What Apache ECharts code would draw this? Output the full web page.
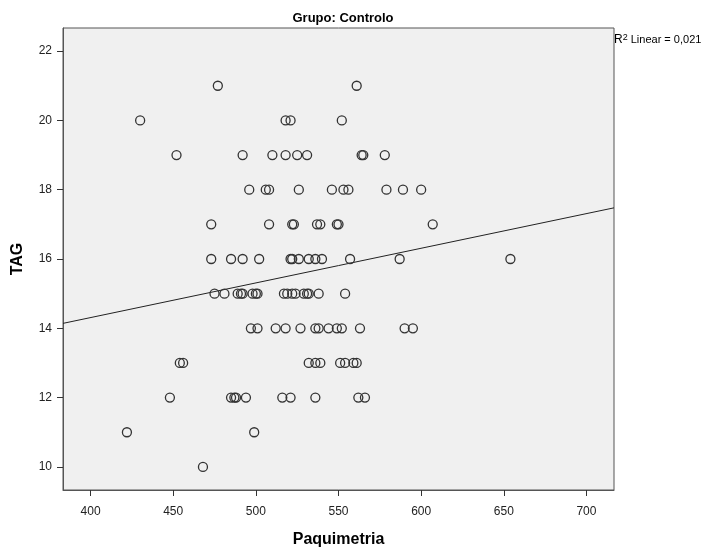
<!DOCTYPE html>
<html>
<head>
<meta charset="utf-8">
<script src="https://cdn.jsdelivr.net/npm/echarts@6/dist/echarts.min.js"></script>
<style>
  html, body { margin: 0; padding: 0; background: #ffffff; }
  #chart { width: 712px; height: 553px; }
</style>
</head>
<body>
<div id="chart"></div>
<script>
// Paquimetria (x) values grouped by TAG level (y)
const tagLevels = [21, 20, 19, 18, 17, 16, 15, 14, 13, 12, 11, 10];
const paqByTag = [
  [477, 561],
  [430, 518, 521, 552],
  [452, 492, 510, 518, 525, 531, 564, 565, 578],
  [496, 506, 508, 526, 546, 553, 556, 579, 589, 600],
  [473, 508, 522, 523, 537, 539, 549, 550, 607],
  [473, 485, 492, 502, 521, 522, 526, 532, 536, 540, 557, 587, 654],
  [475, 481, 489, 491, 492, 498, 500, 501, 517, 519, 522, 524, 529, 531, 532, 538, 554],
  [497, 501, 512, 518, 527, 536, 538, 544, 549, 552, 563, 590, 595],
  [454, 456, 532, 536, 539, 551, 554, 559, 561],
  [448, 485, 487, 488, 494, 516, 521, 536, 562, 566],
  [422, 499],
  [468]
];
const xTicks = [400, 450, 500, 550, 600, 650, 700];
const yTicks = [10, 12, 14, 16, 18, 20, 22];
const r2Label = '0,021';

const xMin = 383.33, xMax = 716.67;
const yMin = 9.333, yMax = 22.667;

// flatten into [x, y] pairs
const points = [];
tagLevels.forEach((t, i) => paqByTag[i].forEach(p => points.push([p, t])));

// ordinary least squares fit line
const n = points.length;
let sx = 0, sy = 0, sxx = 0, sxy = 0;
points.forEach(([x, y]) => { sx += x; sy += y; sxx += x * x; sxy += x * y; });
const slope = (n * sxy - sx * sy) / (n * sxx - sx * sx);
const intercept = (sy - slope * sx) / n;
const fitLine = [[xMin, intercept + slope * xMin], [xMax, intercept + slope * xMax]];

const font = "'Liberation Sans Narrow', 'Liberation Sans', Arial, sans-serif";

const chart = echarts.init(document.getElementById('chart'), null, { renderer: 'canvas' });
chart.setOption({
  animation: false,
  backgroundColor: '#ffffff',
  title: {
    text: 'Grupo: Controlo',
    left: 338, top: 7, textAlign: 'center',
    textStyle: { fontFamily: font, fontSize: 13, fontWeight: 'bold', color: '#000' }
  },
  grid: {
    left: 63, right: 98, top: 28, bottom: 55,
    show: true, backgroundColor: '#F0F0F0', borderColor: '#555555', borderWidth: 1
  },
  xAxis: {
    type: 'value', min: xMin, max: xMax,
    name: 'Paquimetria', nameLocation: 'middle', nameGap: 42,
    nameTextStyle: { fontFamily: font, fontSize: 16, fontWeight: 'bold', color: '#000' },
    axisLine: { show: true, lineStyle: { color: '#555555' } },
    axisTick: { show: true, length: 6, lineStyle: { color: '#333' },
      customValues: xTicks },
    axisLabel: { fontFamily: font, fontSize: 12, color: '#222', margin: 16,
      customValues: xTicks },
    splitLine: { show: false }
  },
  yAxis: {
    type: 'value', min: yMin, max: yMax,
    name: 'TAG', nameLocation: 'middle', nameGap: 37, nameRotate: 90,
    nameTextStyle: { fontFamily: font, fontSize: 16, fontWeight: 'bold', color: '#000' },
    axisLine: { show: true, lineStyle: { color: '#555555' } },
    axisTick: { show: true, length: 6, lineStyle: { color: '#333' },
      customValues: yTicks },
    axisLabel: { fontFamily: font, fontSize: 12, color: '#222', margin: 11,
      customValues: yTicks },
    splitLine: { show: false }
  },
  graphic: [{
    type: 'text', left: 614, top: 33,
    style: {
      text: '{r|R}{s|2}{t| Linear = ' + r2Label + '}',
      rich: {
        r: { fontFamily: font, fontSize: 12, color: '#000' },
        s: { fontFamily: font, fontSize: 9, color: '#000', verticalAlign: 'top', padding: [0, 0, 5, 0] },
        t: { fontFamily: font, fontSize: 11, color: '#000' }
      }
    }
  }],
  series: [
    {
      type: 'scatter', data: points, symbol: 'circle', symbolSize: 9,
      itemStyle: { color: 'rgba(0,0,0,0)', borderColor: '#333333', borderWidth: 1.3, opacity: 1 },
      z: 3
    },
    {
      type: 'line', data: fitLine, showSymbol: false, symbol: 'none',
      lineStyle: { color: '#222222', width: 1 }, z: 2
    }
  ]
});
</script>
</body>
</html>
